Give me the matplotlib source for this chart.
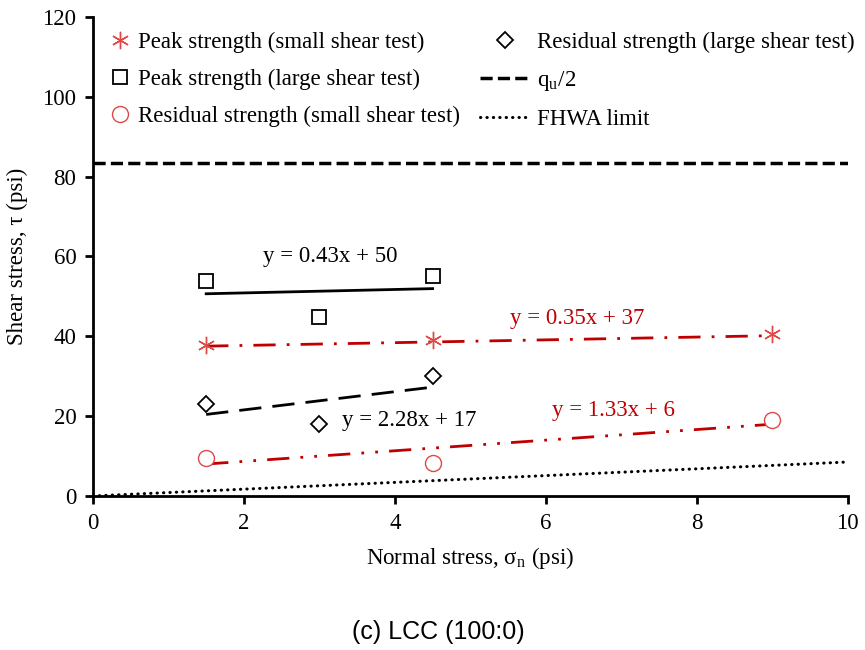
import matplotlib.pyplot as plt
from matplotlib.lines import Line2D

plt.rcParams['font.family'] = ['Liberation Serif', 'DejaVu Serif']
plt.rcParams['mathtext.fontset'] = 'stix'

# test data (psi)
peak_small_x = [1.5, 4.5, 9]
peak_small_y = [37.8, 39.1, 40.6]
peak_large_x = [1.5, 4.5, 3]
peak_large_y = [53.9, 55.1, 44.9]
res_small_x = [1.5, 4.5, 9]
res_small_y = [9.5, 8.3, 19.0]
res_large_x = [1.5, 4.5, 3]
res_large_y = [23.0, 30.0, 18.0]

# fitted lines (slope, intercept, x range)
fit_peak_small = (0.35, 37, [1.5, 9])
fit_peak_large = (0.43, 50, [1.5, 4.5])
fit_res_small = (1.33, 6, [1.5, 9])
fit_res_large = (2.28, 17, [1.5, 4.5])

qu_half = 83.3
fhwa_x = [0, 10]
fhwa_y = [0, 8.5]

red = '#C00000'
mred = '#E04848'

fig = plt.figure(figsize=(8.65, 6.5), dpi=100)
ax = fig.add_axes([0.1075, 0.237, 0.8725, 0.737])


def fit(f):
    m, b, xs = f
    return xs, [m * x + b for x in xs]


x, y = fit(fit_peak_large)
ax.plot(x, y, color='black', lw=2, ls='-')
x, y = fit(fit_peak_small)
ax.plot(x, y, color=red, lw=2, ls=(0, (8, 4, 1, 4)))
x, y = fit(fit_res_large)
ax.plot(x, y, color='black', lw=2, ls=(0, (8, 4)))
x, y = fit(fit_res_small)
ax.plot(x, y, color=red, lw=2, ls=(0, (8, 4, 1, 4, 1, 4)))

ax.axhline(qu_half, color='black', lw=2.5, ls=(0, (3.5, 1.5)))
ax.plot(fhwa_x, fhwa_y, color='black', lw=2.2, ls=(0, (0.1, 2)), dash_capstyle='round')

ms = 10.5
ax.plot(peak_small_x, peak_small_y, ls='none', marker=(6, 2, 0), ms=ms + 2,
        mec=mred, mew=1)
ax.plot(peak_large_x, peak_large_y, ls='none', marker='s', ms=ms, mfc='white',
        mec='black', mew=1.3)
ax.plot(res_small_x, res_small_y, ls='none', marker='o', ms=ms + 1, mfc='white',
        mec=mred, mew=1)
ax.plot(res_large_x, res_large_y, ls='none', marker='D', ms=ms - 2.5, mfc='white',
        mec='black', mew=1.3)

fs = 16.5
ax.text(3.14, 59.9, 'y = 0.43x + 50', fontsize=fs, ha='center', va='center')
ax.text(6.42, 44.4, 'y = 0.35x + 37', fontsize=fs, ha='center', va='center', color=red)
ax.text(3.3, 18.8, 'y = 2.28x + 17', fontsize=fs, ha='left', va='center')
ax.text(6.89, 21.5, 'y = 1.33x + 6', fontsize=fs, ha='center', va='center', color=red)

ax.set_xlim(0, 10)
ax.set_ylim(0, 120)
ax.set_xticks([0, 2, 4, 6, 8, 10])
ax.set_yticks([0, 20, 40, 60, 80, 100, 120])
for s in ['top', 'right']:
    ax.spines[s].set_visible(False)
for s in ['left', 'bottom']:
    ax.spines[s].set_linewidth(2)
ax.tick_params(labelsize=fs, width=2, length=6, pad=6)
ax.set_xlabel('Normal stress, σ$_\\mathregular{n}$ (psi)', fontsize=fs, labelpad=8)
ax.set_ylabel('Shear stress, τ (psi)', fontsize=fs, labelpad=10)

h1 = [
    Line2D([], [], ls='none', marker=(6, 2, 0), ms=ms + 2, mec=mred, mew=1),
    Line2D([], [], ls='none', marker='s', ms=ms, mfc='white', mec='black', mew=1.3),
    Line2D([], [], ls='none', marker='o', ms=ms + 1, mfc='white', mec=mred, mew=1),
]
l1 = ['Peak strength (small shear test)', 'Peak strength (large shear test)',
      'Residual strength (small shear test)']
leg1 = ax.legend(h1, l1, loc='upper left', bbox_to_anchor=(-0.004, 1.012), frameon=False,
                 fontsize=fs, handlelength=0.8, handletextpad=0.4, labelspacing=0.7)
ax.add_artist(leg1)

h2 = [
    Line2D([], [], ls='none', marker='D', ms=ms - 2.5, mfc='white', mec='black', mew=1.3),
    Line2D([], [], color='black', lw=2.5, ls=(0, (3.5, 1.5))),
    Line2D([], [], color='black', lw=2.2, ls=(0, (0.1, 2)), dash_capstyle='round'),
]
l2 = ['Residual strength (large shear test)', 'q$_\\mathregular{u}$/2', 'FHWA limit']
ax.legend(h2, l2, loc='upper left', bbox_to_anchor=(0.485, 1.012), frameon=False,
          fontsize=fs, handlelength=2.2, handletextpad=0.3, labelspacing=0.7)

fig.text(0.507, 0.028, '(c) LCC (100:0)', fontsize=18, ha='center', va='center',
         family='Liberation Sans')

fig.savefig('out.png', dpi=100)
